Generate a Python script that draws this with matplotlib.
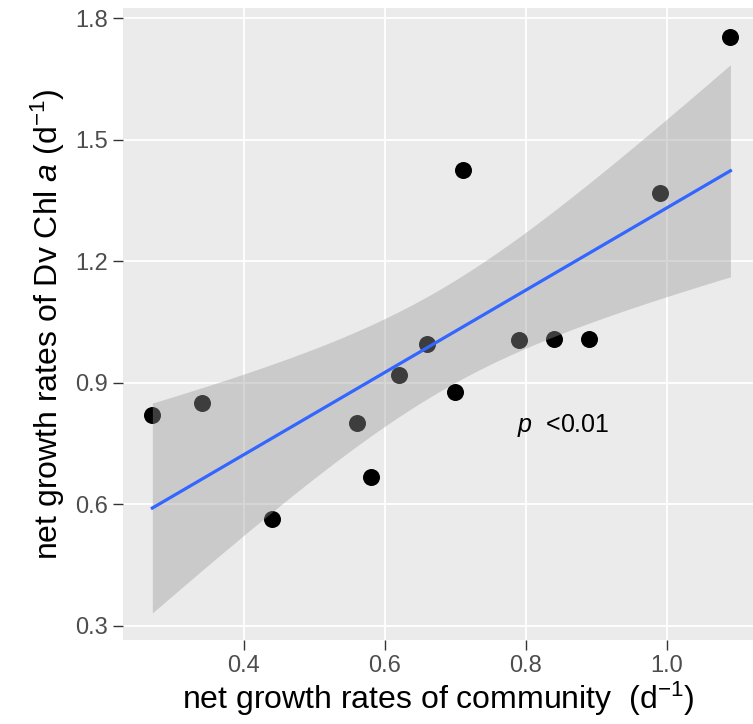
import matplotlib.pyplot as plt
import numpy as np

plt.rcParams['font.family'] = ['Liberation Sans', 'DejaVu Sans']
plt.rcParams['mathtext.fontset'] = 'custom'
plt.rcParams['mathtext.rm'] = 'Liberation Sans'
plt.rcParams['mathtext.it'] = 'Liberation Sans:italic'

community = [0.27, 0.34, 0.44, 0.56, 0.58, 0.62, 0.66, 0.70, 0.71, 0.79, 0.84, 0.89, 0.99, 1.09]
dv_chl_a = [0.82, 0.85, 0.565, 0.80, 0.668, 0.92, 0.995, 0.877, 1.425, 1.005, 1.007, 1.007, 1.368, 1.753]

x = np.array(community)
y = np.array(dv_chl_a)

# linear fit with 95% confidence band (like geom_smooth(method='lm'))
n = len(x)
slope, intercept = np.polyfit(x, y, 1)
resid = y - (slope * x + intercept)
s = np.sqrt(np.sum(resid ** 2) / (n - 2))
t_crit = 2.178813  # t(0.975, df=12)
xs = np.linspace(x.min(), x.max(), 100)
ys = slope * xs + intercept
se = s * np.sqrt(1 / n + (xs - x.mean()) ** 2 / np.sum((x - x.mean()) ** 2))

fig = plt.figure(figsize=(7.53, 7.24), dpi=100)
ax = fig.add_axes([123 / 753, 84 / 724, 630 / 753, 632 / 724])
ax.set_facecolor('#EBEBEB')

ax.scatter(x, y, s=150, color='black', linewidths=0, zorder=2)
ax.fill_between(xs, ys - t_crit * se, ys + t_crit * se, color='#999999', alpha=0.4, linewidth=0, zorder=3)
ax.plot(xs, ys, color='#3366FF', lw=2.3, zorder=4)

ax.text(0.787, 0.795, '$\\mathit{p}$  <0.01', fontsize=18, va='center', ha='left', zorder=5)

ax.set_xlim(0.2284, 1.122)
ax.set_ylim(0.2654, 1.825)
ax.set_xticks([0.4, 0.6, 0.8, 1.0])
ax.set_yticks([0.3, 0.6, 0.9, 1.2, 1.5, 1.8])
ax.set_xticklabels(['0.4', '0.6', '0.8', '1.0'])
ax.set_yticklabels(['0.3', '0.6', '0.9', '1.2', '1.5', '1.8'])
ax.grid(color='white', lw=1.3)
ax.set_axisbelow(True)
for sp in ax.spines.values():
    sp.set_visible(False)
ax.tick_params(length=7, width=1, color='#333333', labelcolor='#4D4D4D', labelsize=17, pad=4)

ax.set_xlabel('net growth rates of community  (d$^{-1}$)', fontsize=23, labelpad=2)
ax.set_ylabel('net growth rates of Dv Chl $\\mathit{a}$ (d$^{-1}$)', fontsize=23, labelpad=6)

plt.savefig('out.png', dpi=100)
